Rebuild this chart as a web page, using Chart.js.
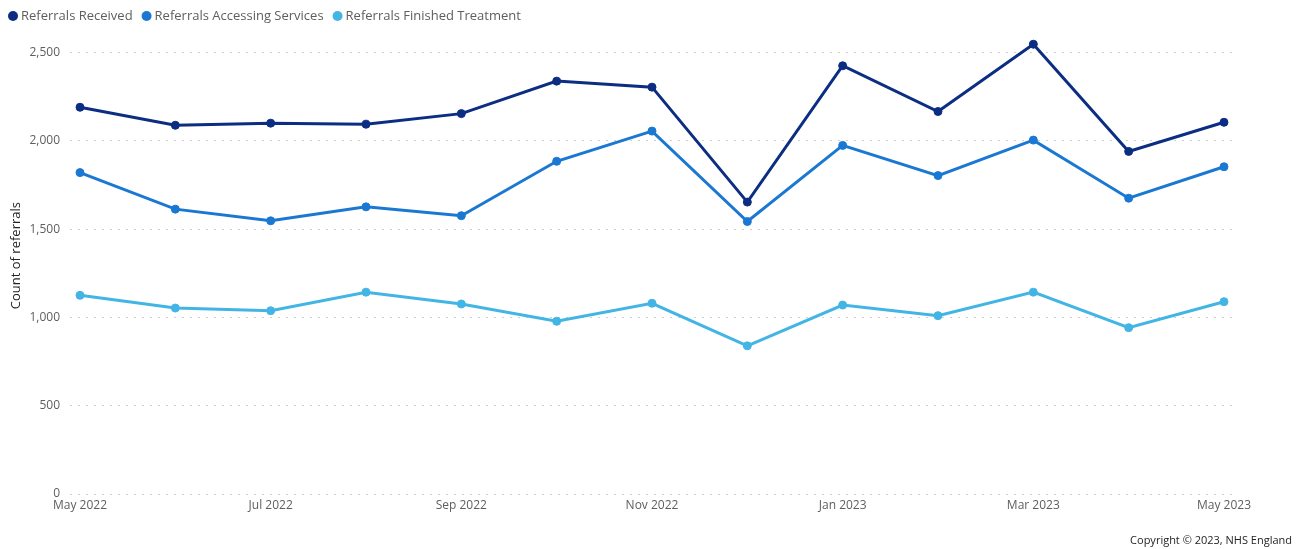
<!DOCTYPE html>
<html>
<head>
<meta charset="utf-8">
<script src="https://cdn.jsdelivr.net/npm/chart.js@4.4.1/dist/chart.umd.min.js"></script>
<style>
  html, body { margin: 0; padding: 0; background: #fff; overflow: hidden; }
  #wrap { position: relative; width: 1306px; height: 549px; }
  #copy {
    position: absolute; right: 14px; top: 532px;
    font: 11px "Segoe UI", "Open Sans", sans-serif; color: #252423;
    white-space: nowrap;
  }
</style>
</head>
<body>
<div id="wrap">
  <canvas id="c" width="1306" height="549"></canvas>
  <div id="copy">Copyright © 2023, NHS England</div>
</div>
<script>
// Monthly referral counts, May 2022 – May 2023
const months = ['May 2022', 'Jun 2022', 'Jul 2022', 'Aug 2022', 'Sep 2022', 'Oct 2022', 'Nov 2022',
                'Dec 2022', 'Jan 2023', 'Feb 2023', 'Mar 2023', 'Apr 2023', 'May 2023'];
const referralsReceived  = [2190, 2088, 2100, 2094, 2154, 2338, 2304, 1653, 2425, 2166, 2547, 1940, 2105];
const referralsAccessing = [1820, 1613, 1547, 1626, 1576, 1884, 2055, 1543, 1974, 1803, 2004, 1675, 1853];
const referralsFinished  = [1125, 1053, 1038, 1143, 1076,  978, 1080,  839, 1070, 1010, 1143,  942, 1089];
const yTickValues = [0, 500, 1000, 1500, 2000, 2500];
const xTickIndexes = [0, 2, 4, 6, 8, 10, 12];

const FONT = '"Segoe UI", "Open Sans", sans-serif';

function series(label, values, color) {
  return {
    label,
    data: values.map((v, i) => ({ x: i, y: v })),
    borderColor: color,
    backgroundColor: color,
    pointBackgroundColor: color,
    pointBorderColor: color,
    borderWidth: 3,
    pointRadius: 4,
    pointBorderWidth: 1,
    tension: 0,
    clip: false
  };
}

// Legend row drawn along the top edge
const topLegend = {
  id: 'topLegend',
  afterDraw(chart) {
    const ctx = chart.ctx;
    ctx.save();
    ctx.font = '13px ' + FONT;
    ctx.textBaseline = 'middle';
    ctx.textAlign = 'left';
    let x = 13;
    const y = 16;
    chart.data.datasets.forEach(ds => {
      ctx.beginPath();
      ctx.fillStyle = ds.borderColor;
      ctx.arc(x, y, 5, 0, Math.PI * 2);
      ctx.fill();
      ctx.fillStyle = '#605e5c';
      ctx.fillText(ds.label, x + 8, y);
      x += 8 + ctx.measureText(ds.label).width + 14;
    });
    ctx.restore();
  }
};

new Chart(document.getElementById('c'), {
  type: 'line',
  data: {
    datasets: [
      series('Referrals Received', referralsReceived, '#0b2d82'),
      series('Referrals Accessing Services', referralsAccessing, '#1a78d2'),
      series('Referrals Finished Treatment', referralsFinished, '#43b5e5')
    ]
  },
  options: {
    responsive: false,
    animation: false,
    layout: { padding: { top: 16, right: 74, left: 0, bottom: 0 } },
    plugins: { legend: { display: false }, tooltip: { enabled: false } },
    scales: {
      x: {
        type: 'linear',
        min: -0.105,
        max: 12.084,
        grid: { display: false, drawTicks: false },
        border: { display: false },
        afterBuildTicks(scale) { scale.ticks = xTickIndexes.map(v => ({ value: v })); },
        afterFit(scale) { scale.height = 55; },
        ticks: {
          padding: 4,
          maxRotation: 0,
          autoSkip: false,
          color: '#605e5c',
          font: { family: FONT, size: 12 },
          callback: v => months[v]
        }
      },
      y: {
        min: 0,
        max: 2700,
        afterBuildTicks(scale) { scale.ticks = yTickValues.map(v => ({ value: v })); },
        afterFit(scale) { scale.width = 70; },
        border: { display: false, dash: [2, 6] },
        grid: {
          drawTicks: false,
          color: '#cfcfcf',
          lineWidth: 1
        },
        ticks: {
          padding: 10,
          color: '#605e5c',
          font: { family: FONT, size: 12 },
          callback: v => v.toLocaleString('en-US')
        },
        title: {
          display: true,
          text: 'Count of referrals',
          color: '#252423',
          font: { family: FONT, size: 13 },
          padding: { top: 8, bottom: 0 }
        }
      }
    }
  },
  plugins: [topLegend]
});
</script>
</body>
</html>
